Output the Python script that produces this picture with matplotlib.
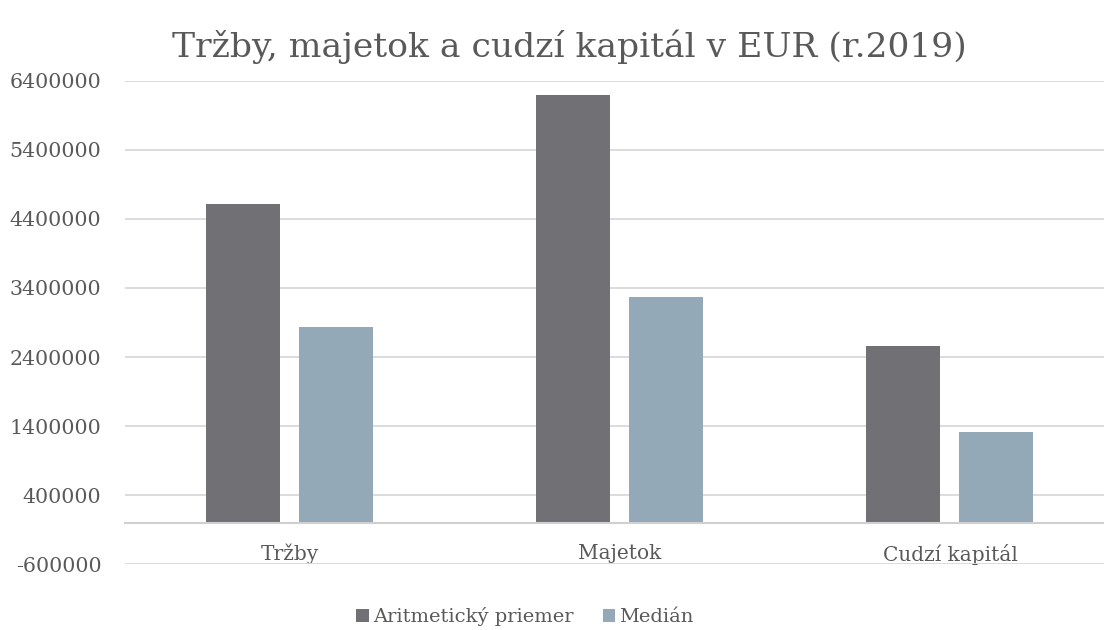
import matplotlib.pyplot as plt
import numpy as np

# data
categories = ["Tržby", "Majetok", "Cudzí kapitál"]
priemer = [4610000, 6190000, 2560000]
median = [2835000, 3270000, 1316000]
series_names = ["Aritmetický priemer", "Medián"]
yticks = [-600000, 400000, 1400000, 2400000, 3400000, 4400000, 5400000, 6400000]

plt.rcParams["font.family"] = ["DejaVu Serif"]
txt_col = "#595959"

fig = plt.figure(figsize=(11.04, 6.30), dpi=100)
ax = fig.add_axes([125 / 1104, 1 - 564.3 / 630, 990 / 1104, (564.3 - 80.7) / 630])

x = np.arange(len(categories))
w = 74 / 330
gap = 19 / 330
ax.bar(x - (w + gap) / 2, priemer, width=w, color="#707075", label=series_names[0], zorder=3)
ax.bar(x + (w + gap) / 2, median, width=w, color="#93A9B8", label=series_names[1], zorder=3)

ax.set_xlim(-0.5, len(categories) - 0.5)
ax.set_ylim(yticks[0], yticks[-1])
ax.set_yticks(yticks)
ax.set_yticklabels([str(v) for v in yticks])
ax.yaxis.grid(True, color="#D9D9D9", linewidth=1.3, zorder=0)
ax.set_axisbelow(True)

for s in ["left", "right", "top"]:
    ax.spines[s].set_visible(False)
ax.spines["bottom"].set_position(("data", 0))
ax.spines["bottom"].set_color("#D0D0D0")
ax.spines["bottom"].set_linewidth(1.5)
ax.spines["bottom"].set_zorder(4)

ax.set_xticks(x)
ax.set_xticklabels(categories)
ax.tick_params(axis="x", length=0, pad=15, labelsize=14.5, labelcolor=txt_col)
ax.tick_params(axis="y", length=0, pad=17, labelsize=14.8, labelcolor=txt_col)

fig.text(569.5 / 1104, 1 - 47 / 630, "Tržby, majetok a cudzí kapitál v EUR (r.2019)",
         ha="center", va="center", fontsize=24.8, color=txt_col)

fig.legend(loc="center", bbox_to_anchor=(525 / 1104, 1 - 617 / 630), ncol=2,
           frameon=False, fontsize=14, labelcolor=txt_col,
           handlelength=0.65, handleheight=0.65, handletextpad=0.2, columnspacing=1.5)

plt.savefig("out.png", dpi=100)
